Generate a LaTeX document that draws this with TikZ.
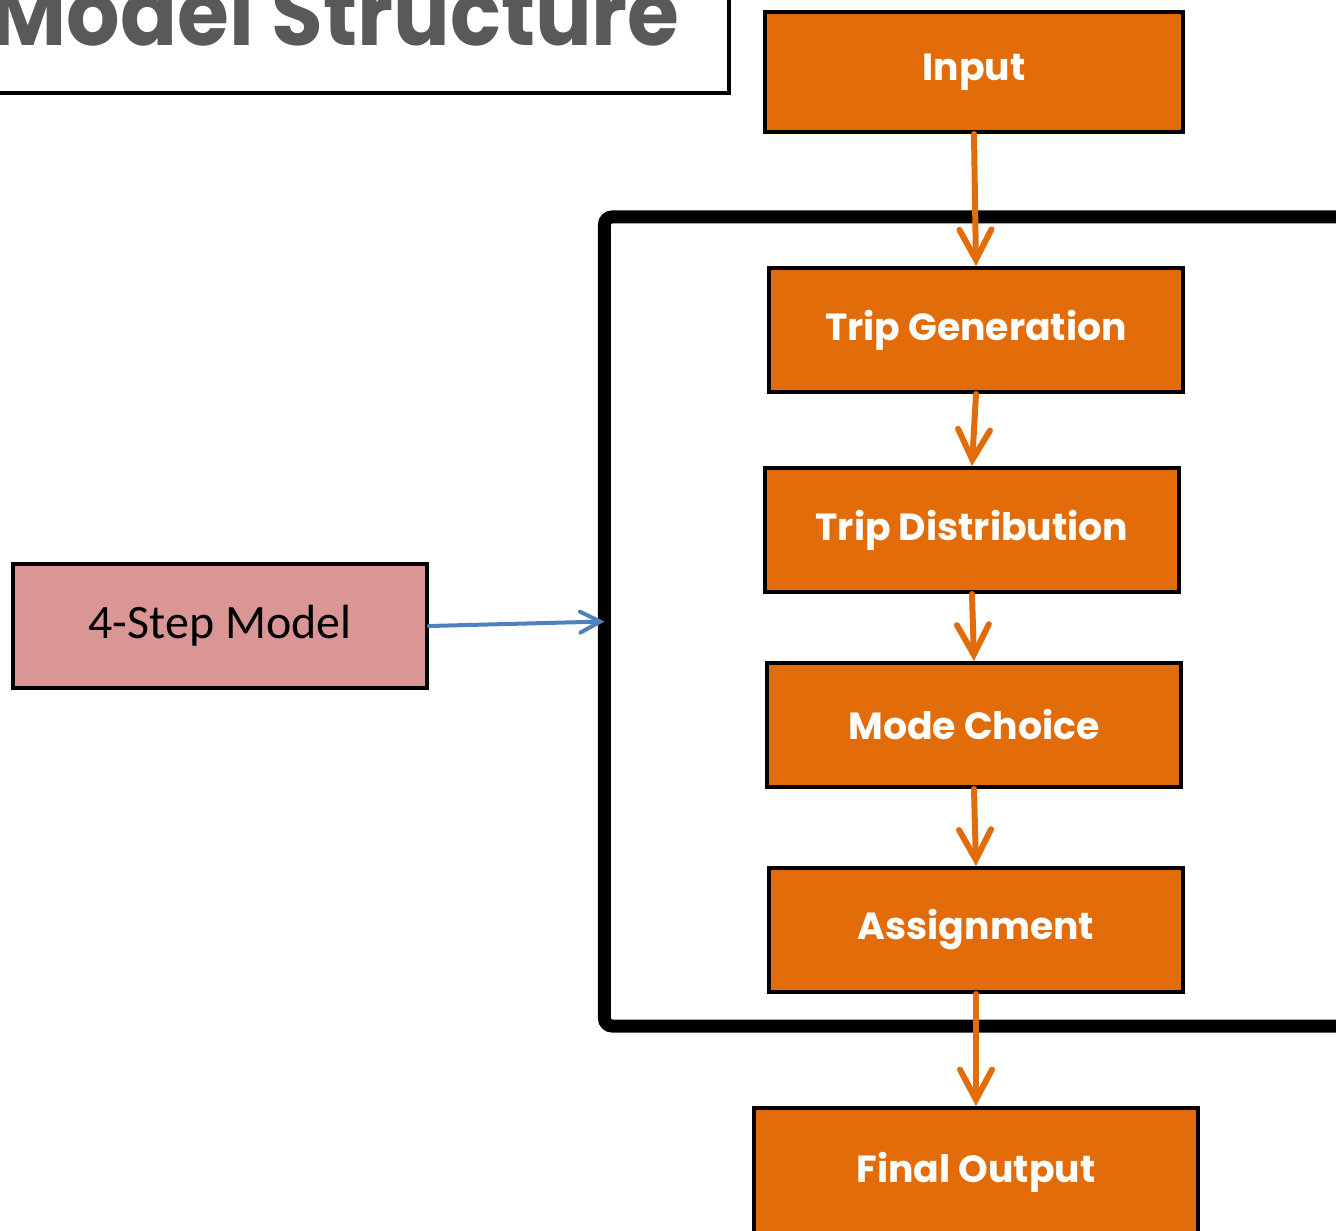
\documentclass[tikz,border=0pt]{standalone}
\usepackage{fontspec}
\usepackage{tikz}
\usetikzlibrary{arrows.meta, positioning}
\newfontfamily\stepfont{Poppins}
\newfontfamily\calfont{Carlito}
\definecolor{stepfill}{RGB}{227,108,10}
\definecolor{modelfill}{RGB}{217,150,148}
\definecolor{linkblue}{RGB}{79,129,189}
\definecolor{titlegray}{RGB}{89,89,89}
\tikzset{
    stepbox/.style={
        rectangle,
        draw=black,
        line width=0.8mm,
        fill=stepfill,
        text=white,
        align=center,
        minimum width=82.8mm,
        minimum height=24.8mm,
        font=\stepfont\bfseries\fontsize{21.5}{25}\selectfont
    },
    modelbox/.style={
        rectangle,
        draw=black,
        line width=0.8mm,
        fill=modelfill,
        align=center,
        minimum width=82.8mm,
        minimum height=24.8mm,
        font=\calfont\fontsize{27.3}{32}\selectfont
    },
    flow/.style={-{Straight Barb[length=6mm, width=6.4mm, line cap=round]}, line width=1.2mm, draw=stepfill, line cap=round},
    link/.style={-{Straight Barb[length=4mm, width=4.2mm, line cap=round]}, line width=0.8mm, draw=linkblue, line cap=round}
}

\begin{document}
\begin{tikzpicture}[x=0.2mm, y=-0.2mm]

\useasboundingbox (0,0) rectangle (1336,1231);
\clip (0,0) rectangle (1336,1231);

% title
\draw[line width=0.8mm] (-60,-60) rectangle (729,93);
\node[anchor=base east, inner sep=0pt, text=titlegray,
    font=\stepfont\bfseries\fontsize{52}{58}\selectfont] (title) at (680,45) {\scalebox{0.92}[1]{Model Structure}};

% the four steps
\node[draw=black, line width=2.6mm, rounded corners=1.5mm, outer sep=0pt,
    minimum width=159mm, minimum height=161.8mm] (loop) at (1002,621.5) {};

\node[stepbox, minimum width=83.6mm, minimum height=24mm] (input) at (974,72) {Input};
\node[stepbox] (tgen) at (976,330) {Trip Generation};
\node[stepbox] (tdist) at (972,530) {Trip Distribution};
\node[stepbox] (mode) at (974,725) {Mode Choice};
\node[stepbox] (assign) at (976,930) {Assignment};
\node[stepbox, minimum width=88.8mm, minimum height=36mm] (final) at (976,1198) {};
\node[text=white, font=\stepfont\bfseries\fontsize{21.5}{25}\selectfont] (finaltxt) at (976,1172) {Final Output};

\node[modelbox] (model) at (220,626) {4-Step Model};

\draw[flow] (input.south) -- (tgen.north);
\draw[flow] (tgen.south) -- (tdist.north);
\draw[flow] (tdist.south) -- (mode.north);
\draw[flow] (mode.south) -- (assign.north);
\draw[flow] (assign.south) -- (final.north);
\draw[link] (model.east) -- (loop.west);

\end{tikzpicture}
\end{document}
